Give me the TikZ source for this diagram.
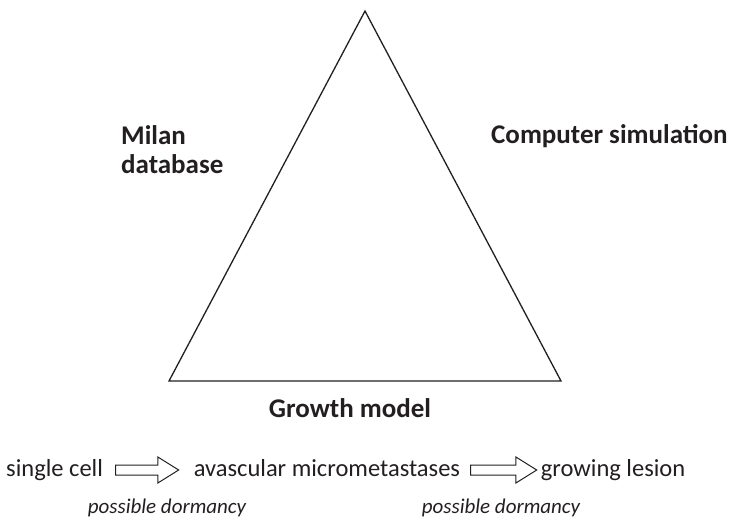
\documentclass[tikz,border=0pt]{standalone}
\usepackage{fontspec}
\setmainfont{Carlito}
\usetikzlibrary{positioning,shapes.arrows}
\definecolor{ink}{HTML}{231F20}
\begin{document}
\begin{tikzpicture}[x=1pt,y=-1pt,
    label/.style={font=\fontsize{27}{29}\selectfont\bfseries,text=ink,inner sep=0pt},
    stage/.style={font=\fontsize{24.5}{28}\selectfont,text=ink,inner sep=0pt,
      text height=17pt,text depth=5pt},
    note/.style={font=\fontsize{21}{25}\selectfont\itshape,text=ink,inner sep=0pt},
    blockarrow/.style={single arrow,draw=ink,line width=1pt,inner sep=4.5pt,
      single arrow head extend=8pt,single arrow tip angle=64}]
  \useasboundingbox (0,0) rectangle (729,522);
  % triangle
  \coordinate (top) at (365,11);
  \coordinate (bl) at (169,381);
  \coordinate (br) at (561,381);
  \draw[ink,line width=1.3pt,line join=miter] (top)--(bl)--(br)--cycle;
  % corner labels
  \node[label,align=left,anchor=west] (milan) at (121,150) {Milan\\database};
  \node[label,anchor=west] (sim) at (491,136) {Computer simulation};
  \node[label] (growth) at (350,408) {Growth model};
  % stages
  \node[stage,anchor=west] (cell) at (6,470) {single cell};
  \node[blockarrow,minimum height=63pt,right=12pt of cell] (arrA) {};
  \node[stage,right=14pt of arrA] (avasc) {avascular micrometastases};
  \node[blockarrow,minimum height=66pt,right=10pt of avasc] (arrB) {};
  \node[stage,right=3pt of arrB] (lesion) {growing lesion};
  % dormancy notes
  \node[note] (dormA) at (167,508) {possible dormancy};
  \node[note] (dormB) at (501,508) {possible dormancy};
\end{tikzpicture}
\end{document}
